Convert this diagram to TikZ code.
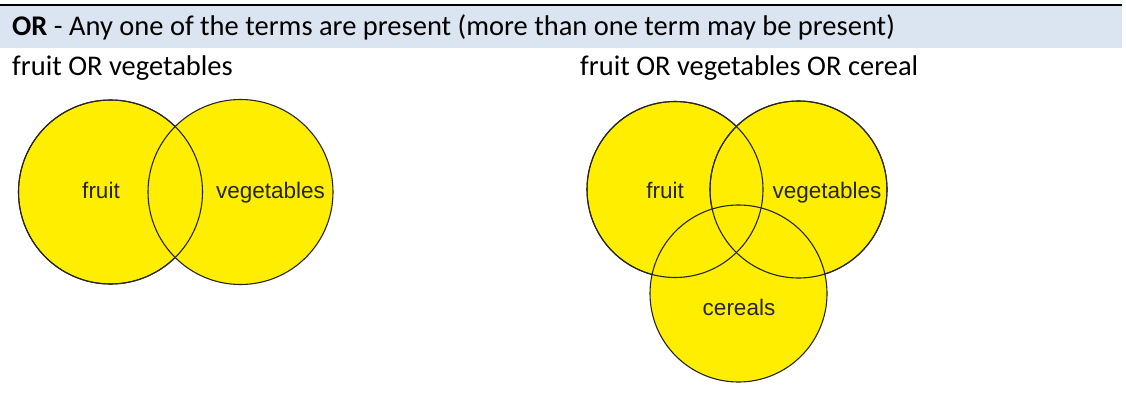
\documentclass[tikz,border=0pt]{standalone}
\usepackage{fontspec}
\setmainfont{Carlito}
\newfontfamily\vennfont{Liberation Sans}
\definecolor{bandblue}{HTML}{DBE5F1}
\definecolor{vennyellow}{HTML}{FFEE00}
\begin{document}
\begin{tikzpicture}[x=1pt,y=-1pt,
  venn/.style={draw=black!85,line width=1.1pt,fill=vennyellow},
  ring/.style={draw=black!85,line width=1.1pt},
  vlabel/.style={font=\vennfont\fontsize{22.5}{26}\selectfont,text=black!85,inner sep=0pt,anchor=base},
  txt/.style={font=\fontsize{28.5}{32}\selectfont,anchor=base west,inner sep=0pt}]
\useasboundingbox (0,0) rectangle (1126,394);
\fill[bandblue] (0,6) rectangle (1122,48);
\draw[line width=2.2pt] (0,5) -- (1122,5);
\node[txt] (hdr) at (12,35) {\textbf{OR} - Any one of the terms are present (more than one term may be present)};
\node[txt] (t1) at (12,75) {fruit OR vegetables};
\node[txt] (t2) at (580,75) {fruit OR vegetables OR cereal};
% left venn
\draw[venn] (110.5,192) circle (92);
\draw[venn] (240.5,192) circle (92.5);
\draw[ring] (110.5,192) circle (92);
\node[vlabel] (f1) at (101,198) {fruit};
\node[vlabel] (v1) at (270.5,198) {vegetables};
% right venn
\draw[venn] (675,189.5) circle (88);
\draw[venn] (798.5,189.5) circle (88.5);
\draw[venn] (738.5,293.5) circle (88.5);
\draw[ring] (675,189.5) circle (88);
\draw[ring] (798.5,189.5) circle (88.5);
\node[vlabel] (f2) at (665,198) {fruit};
\node[vlabel] (v2) at (827,198) {vegetables};
\node[vlabel] (c2) at (739,315) {cereals};
\end{tikzpicture}
\end{document}
